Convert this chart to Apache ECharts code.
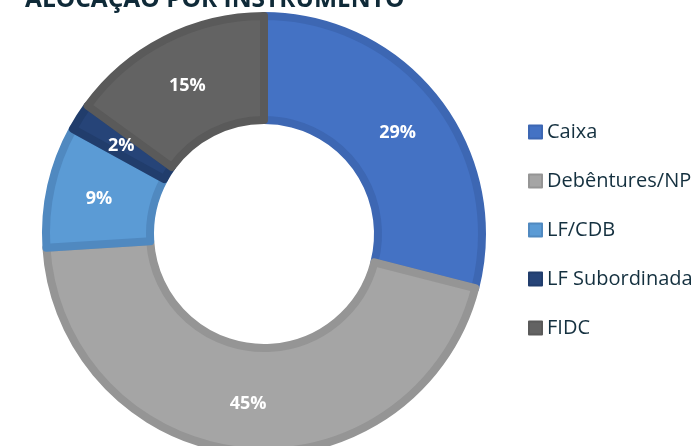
<!DOCTYPE html>
<html>
<head>
<meta charset="utf-8">
<script src="https://cdn.jsdelivr.net/npm/echarts@6/dist/echarts.min.js"></script>
<style>
  html, body { margin: 0; padding: 0; background: #fff; }
  #chart { width: 694px; height: 446px; }
</style>
</head>
<body>
<div id="chart"></div>
<script>
// alocação por instrumento (%)
var categories = ['Caixa', 'Debêntures/NP', 'LF/CDB', 'LF Subordinada', 'FIDC']
var values = [29, 45, 9, 2, 15]
var fillColors = ['#4472C4', '#A5A5A5', '#5B9BD5', '#264478', '#636363']
var edgeColors = ['#3D67B3', '#959595', '#5089C0', '#213D6C', '#5A5A5A']

var chart = echarts.init(document.getElementById('chart'))

var data = categories.map(function (name, i) {
  return {
    name: name,
    value: values[i],
    itemStyle: { color: fillColors[i], borderColor: edgeColors[i] }
  }
})

chart.setOption({
  animation: false,
  title: {
    text: 'ALOCAÇÃO POR INSTRUMENTO',
    left: 20,
    top: -17,
    textStyle: {
      fontFamily: 'Open Sans',
      fontWeight: 'bold',
      fontSize: 24.5,
      color: '#0F2A38'
    }
  },
  legend: {
    orient: 'vertical',
    left: 523,
    top: 117,
    itemWidth: 13,
    itemHeight: 13,
    itemGap: 29,
    icon: 'rect',
    data: categories,
    textStyle: {
      fontFamily: 'Open Sans',
      fontSize: 20,
      lineHeight: 20,
      color: '#14303F'
    }
  },
  series: [{
    type: 'pie',
    center: [264, 234],
    radius: [114, 218],
    startAngle: 90,
    silent: true,
    emphasis: { disabled: true },
    itemStyle: { borderWidth: 8 },
    label: {
      show: true,
      position: 'inside',
      formatter: '{c}%',
      color: '#fff',
      fontFamily: 'Open Sans',
      fontWeight: 'bold',
      fontSize: 18,
      offset: [0, 2]
    },
    labelLine: { show: false },
    data: data
  }]
})
</script>
</body>
</html>
